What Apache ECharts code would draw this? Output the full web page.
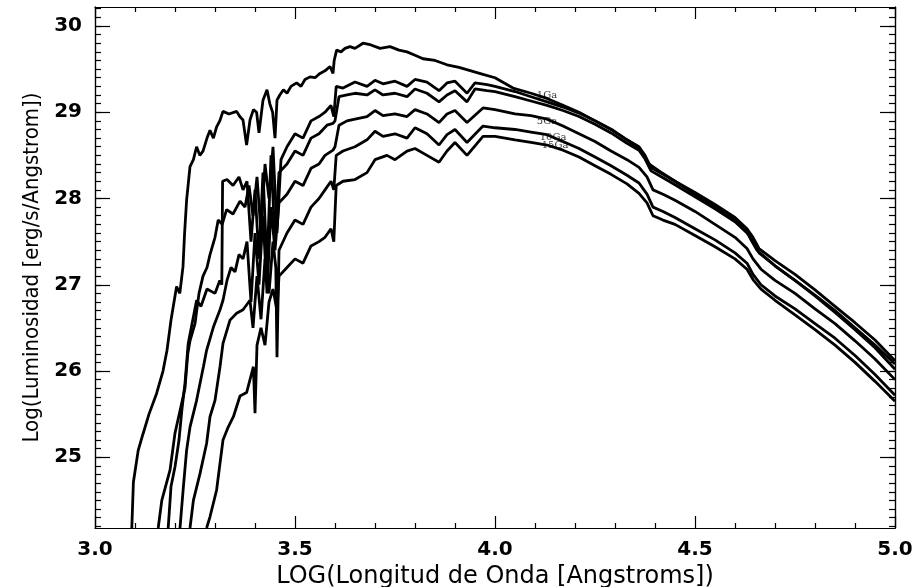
<!DOCTYPE html>
<html><head><meta charset="utf-8">
<script src="https://cdn.jsdelivr.net/npm/echarts@6/dist/echarts.min.js"></script>
<style>html,body{margin:0;padding:0;background:#fff}#c{width:920px;height:587px}</style>
</head><body><div id="c"></div>
<script>
// ---- data (log wavelength, log luminosity) ----
const xTickValues = [3.0, 3.5, 4.0, 4.5, 5.0];
const yTickValues = [25, 26, 27, 28, 29, 30];

const curveA_x = [3.092,3.096,3.108,3.12,3.135,3.154,3.17,3.18,3.19,3.204,3.212,3.22,3.224,3.229,3.2375,3.246,3.254,3.262,3.27,3.28,3.2875,3.296,3.304,3.312,3.32,3.335,3.354,3.362,3.37,3.379,3.3875,3.396,3.404,3.41,3.42,3.43,3.437,3.444,3.45,3.455,3.462,3.471,3.48,3.49,3.504,3.515,3.525,3.5375,3.55,3.5625,3.575,3.5875,3.595,3.598,3.604,3.615,3.625,3.6375,3.65,3.67,3.69,3.7125,3.7375,3.76,3.78,3.8,3.82,3.85,3.88,3.91,3.94,3.97,4.0,4.045,4.09,4.13,4.17,4.21,4.25,4.295,4.33,4.36,4.37,4.385,4.41,4.45,4.5,4.55,4.6,4.63,4.64,4.655,4.7,4.75,4.8,4.85,4.9,4.95,5.0];
const curveA_y = [24.18,24.71,25.08,25.27,25.5,25.74,26.0,26.24,26.59,26.98,26.9,27.21,27.6,27.98,28.37,28.45,28.6,28.5,28.55,28.7,28.79,28.7,28.83,28.9,29.01,28.98,29.01,28.95,28.91,28.62,28.91,29.03,29.0,28.76,29.14,29.26,29.1,29.0,28.7,29.14,29.2,29.26,29.22,29.3,29.34,29.3,29.38,29.41,29.4,29.45,29.48,29.53,29.45,29.6,29.72,29.7,29.74,29.76,29.74,29.8,29.78,29.74,29.76,29.72,29.7,29.66,29.62,29.6,29.55,29.52,29.48,29.44,29.4,29.28,29.22,29.16,29.08,29.0,28.9,28.79,28.68,28.58,28.5,28.4,28.32,28.2,28.05,27.9,27.75,27.62,27.52,27.4,27.22,27.05,26.88,26.7,26.5,26.3,26.08];

const curveB_x = [3.158,3.167,3.1875,3.2,3.2125,3.225,3.232,3.2375,3.25,3.26,3.27,3.28,3.2875,3.3,3.308,3.318,3.329,3.345,3.3625,3.375,3.385,3.395,3.405,3.415,3.425,3.435,3.445,3.455,3.465,3.48,3.5,3.52,3.54,3.56,3.575,3.59,3.597,3.603,3.62,3.65,3.68,3.7,3.72,3.75,3.78,3.8,3.83,3.86,3.88,3.9,3.93,3.95,3.98,4.0,4.05,4.09,4.13,4.17,4.21,4.25,4.29,4.33,4.36,4.375,4.39,4.42,4.45,4.5,4.55,4.6,4.63,4.645,4.66,4.7,4.75,4.8,4.85,4.9,4.95,5.0];
const curveB_y = [24.18,24.5,24.85,25.28,25.54,25.8,26.2,26.35,26.55,26.9,27.1,27.2,27.35,27.55,27.75,27.7,27.87,27.82,27.97,27.9,28.15,27.8,28.25,27.6,28.4,28.0,28.6,27.6,28.45,28.6,28.75,28.7,28.9,28.95,29.0,29.08,28.95,29.3,29.28,29.35,29.3,29.37,29.33,29.36,29.3,29.38,29.35,29.25,29.34,29.36,29.22,29.34,29.32,29.3,29.24,29.18,29.12,29.06,28.99,28.9,28.8,28.68,28.6,28.5,28.36,28.28,28.2,28.07,27.93,27.78,27.65,27.55,27.42,27.28,27.12,26.94,26.75,26.56,26.36,26.12];

const curveC_x = [3.183,3.19,3.2,3.21,3.217,3.225,3.233,3.246,3.254,3.265,3.28,3.3,3.312,3.317,3.319,3.33,3.345,3.36,3.37,3.38,3.39,3.4,3.41,3.42,3.43,3.44,3.45,3.46,3.48,3.5,3.52,3.54,3.56,3.58,3.595,3.6,3.61,3.63,3.65,3.68,3.7,3.72,3.75,3.78,3.8,3.83,3.86,3.88,3.9,3.93,3.95,3.98,4.0,4.05,4.09,4.13,4.17,4.21,4.25,4.29,4.33,4.36,4.375,4.39,4.42,4.45,4.5,4.55,4.6,4.63,4.645,4.66,4.7,4.75,4.8,4.85,4.9,4.95,5.0];
const curveC_y = [24.18,24.66,24.89,25.2,25.54,25.86,26.32,26.63,26.82,26.75,26.95,26.9,27.05,27.0,28.2,28.22,28.15,28.25,28.1,28.2,27.5,28.1,27.3,28.3,27.2,28.5,27.5,28.3,28.4,28.55,28.5,28.7,28.75,28.85,28.87,28.9,29.18,29.2,29.22,29.2,29.26,29.2,29.22,29.18,29.27,29.22,29.12,29.2,29.25,29.12,29.27,29.25,29.24,29.18,29.13,29.08,29.02,28.95,28.86,28.76,28.64,28.56,28.46,28.32,28.24,28.16,28.02,27.88,27.73,27.6,27.5,27.37,27.22,27.05,26.87,26.68,26.48,26.27,26.02];

const curveD_x = [3.2125,3.221,3.229,3.2375,3.254,3.271,3.279,3.296,3.3125,3.32,3.33,3.34,3.35,3.36,3.37,3.38,3.39,3.4,3.41,3.42,3.43,3.44,3.45,3.46,3.48,3.5,3.52,3.54,3.56,3.575,3.595,3.6,3.61,3.63,3.65,3.68,3.7,3.72,3.75,3.78,3.8,3.83,3.86,3.88,3.9,3.93,3.97,4.0,4.05,4.09,4.13,4.17,4.21,4.25,4.29,4.33,4.36,4.38,4.395,4.42,4.45,4.5,4.55,4.6,4.63,4.645,4.665,4.7,4.75,4.8,4.85,4.9,4.95,5.0];
const curveD_y = [24.18,24.66,25.08,25.35,25.66,26.05,26.24,26.51,26.71,26.82,27.05,27.2,27.15,27.35,27.3,27.5,26.8,27.6,27.0,27.8,26.9,27.9,27.4,27.95,28.05,28.2,28.15,28.35,28.4,28.5,28.56,28.6,28.85,28.9,28.92,28.95,29.02,28.96,28.98,28.95,29.03,28.98,28.88,28.98,29.02,28.88,29.05,29.03,28.98,28.96,28.92,28.84,28.75,28.66,28.55,28.45,28.36,28.25,28.1,28.05,27.98,27.85,27.7,27.55,27.42,27.3,27.18,27.05,26.9,26.72,26.55,26.35,26.14,25.9];

const curveE_x = [3.2375,3.246,3.2625,3.279,3.2875,3.3,3.3125,3.32,3.3375,3.354,3.37,3.3875,3.395,3.405,3.415,3.425,3.435,3.445,3.452,3.455,3.46,3.48,3.5,3.52,3.54,3.56,3.575,3.59,3.597,3.603,3.62,3.65,3.68,3.7,3.72,3.75,3.78,3.8,3.83,3.86,3.88,3.9,3.93,3.97,4.0,4.05,4.09,4.13,4.17,4.21,4.25,4.29,4.33,4.36,4.38,4.395,4.42,4.45,4.5,4.55,4.6,4.63,4.645,4.665,4.7,4.75,4.8,4.85,4.9,4.95,5.0];
const curveE_y = [24.18,24.5,24.81,25.16,25.47,25.66,26.05,26.32,26.59,26.67,26.71,26.82,26.5,27.1,26.6,27.3,26.9,27.5,27.2,26.16,27.4,27.6,27.75,27.7,27.9,28.0,28.1,28.2,28.1,28.5,28.55,28.6,28.68,28.78,28.72,28.75,28.7,28.82,28.75,28.62,28.74,28.8,28.65,28.84,28.82,28.8,28.77,28.74,28.66,28.58,28.48,28.38,28.27,28.18,28.05,27.9,27.85,27.78,27.65,27.52,27.37,27.25,27.12,27.0,26.87,26.72,26.55,26.38,26.18,25.96,25.72];

const curveF_x = [3.279,3.2875,3.304,3.32,3.333,3.346,3.3625,3.379,3.3875,3.396,3.4,3.405,3.415,3.425,3.435,3.445,3.455,3.46,3.48,3.5,3.52,3.54,3.56,3.575,3.59,3.597,3.603,3.62,3.65,3.68,3.7,3.73,3.75,3.78,3.8,3.83,3.86,3.88,3.9,3.93,3.97,4.0,4.05,4.09,4.13,4.17,4.21,4.25,4.29,4.33,4.36,4.38,4.395,4.42,4.45,4.5,4.55,4.6,4.63,4.645,4.665,4.7,4.75,4.8,4.85,4.9,4.95,5.0];
const curveF_y = [24.18,24.31,24.62,25.2,25.35,25.47,25.71,25.75,25.9,26.05,25.51,26.3,26.5,26.3,26.8,26.95,26.7,27.1,27.2,27.3,27.25,27.45,27.5,27.55,27.65,27.5,28.15,28.2,28.22,28.3,28.45,28.5,28.45,28.55,28.58,28.5,28.42,28.55,28.65,28.5,28.72,28.72,28.68,28.65,28.62,28.56,28.48,28.38,28.28,28.17,28.06,27.95,27.8,27.75,27.7,27.57,27.44,27.3,27.18,27.06,26.95,26.82,26.65,26.48,26.3,26.1,25.88,25.65];

const ageLabels = ['1Ga', '5Ga', '10Ga', '15Ga'];
const ageLabelX = [4.13, 4.13, 4.145, 4.15];
const ageLabelY = [29.19, 28.89, 28.71, 28.61];

// ---- build ----
const Y_MIN = 24.18, Y_MAX = 30.22;
const yMinor = [];
for (let i = 242; i <= 302; i++) yMinor.push(i / 10);

const curves = [
  [curveA_x, curveA_y], [curveB_x, curveB_y], [curveC_x, curveC_y],
  [curveD_x, curveD_y], [curveE_x, curveE_y], [curveF_x, curveF_y]
];
const pair = (xs, ys) => xs.map((x, i) => [x, ys[i]]);

const black = '#000';
const tickFont = { color: black, fontFamily: 'DejaVu Sans', fontWeight: 'bold', fontSize: 20 };

function yAx(pos, major, withLabel) {
  return {
    type: 'value', min: Y_MIN, max: Y_MAX, position: pos,
    axisLine: { show: true, lineStyle: { color: black, width: 1.2 } },
    axisTick: { show: true, inside: true, length: major ? 15 : 6,
      customValues: major ? yTickValues : yMinor, lineStyle: { color: black, width: 1.2 } },
    axisLabel: withLabel ? Object.assign({ show: true, customValues: yTickValues, margin: 13 }, tickFont) : { show: false },
    splitLine: { show: false },
    name: withLabel ? 'Log(Luminosidad [erg/s/Angstrom])' : '',
    nameLocation: 'middle', nameGap: 50,
    nameTextStyle: { color: black, fontFamily: "'Liberation Sans Narrow', 'DejaVu Sans Condensed', 'DejaVu Sans'", fontSize: 22 }
  };
}
function xAx(pos, withLabel) {
  return {
    type: 'value', min: 3.0, max: 5.0, interval: 0.5, position: pos,
    axisLine: { show: true, onZero: false, lineStyle: { color: black, width: 1.2 } },
    axisTick: { show: true, inside: true, length: 12, lineStyle: { color: black, width: 1.2 } },
    minorTick: { show: true, splitNumber: 5, length: 5, lineStyle: { color: black, width: 1.2 } },
    axisLabel: withLabel ? Object.assign({ show: true, margin: 12,
      formatter: v => v.toFixed(1) }, tickFont) : { show: false },
    splitLine: { show: false },
    name: withLabel ? 'LOG(Longitud de Onda [Angstroms])' : '',
    nameLocation: 'middle', nameGap: 33,
    nameTextStyle: { color: black, fontFamily: 'DejaVu Sans', fontSize: 24 }
  };
}

const series = curves.map(([xs, ys]) => ({
  type: 'line', data: pair(xs, ys), showSymbol: false, symbol: 'none',
  clip: true, animation: false, silent: true,
  lineStyle: { color: black, width: 2.8 }
}));
series.push({
  type: 'scatter', symbolSize: 0, animation: false, silent: true,
  data: ageLabels.map((n, i) => ({ name: n, value: [ageLabelX[i], ageLabelY[i]] })),
  label: { show: true, position: 'inside', formatter: p => p.name,
    color: black, fontFamily: 'DejaVu Serif', fontSize: 10 }
});

const chart = echarts.init(document.getElementById('c'), null, { renderer: 'canvas' });
chart.setOption({
  animation: false,
  backgroundColor: '#fff',
  grid: { left: 95, right: 25, top: 7, bottom: 59, containLabel: false, outerBoundsMode: 'none' },
  xAxis: [xAx('bottom', true), xAx('top', false)],
  yAxis: [yAx('left', true, true), yAx('left', false, false), yAx('right', true, false), yAx('right', false, false)],
  series: series
});
</script></body></html>
